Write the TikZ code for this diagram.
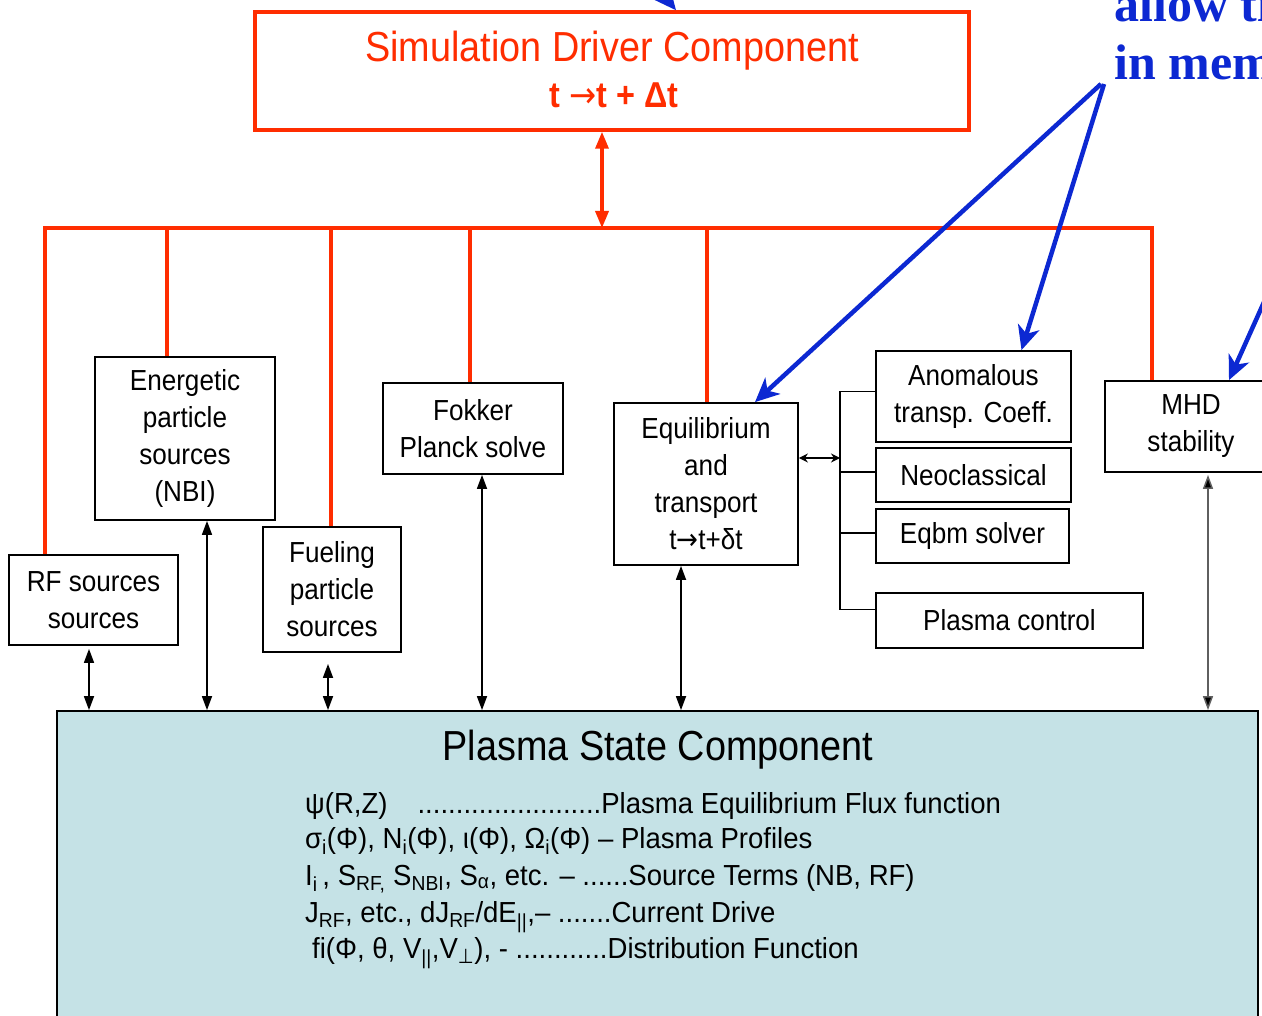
\documentclass[tikz,border=0pt]{standalone}
\usepackage{fontspec}
\setmainfont[FakeStretch=0.9]{Liberation Sans}
\newfontfamily\psfont[FakeStretch=0.95]{Liberation Sans}
\newfontfamily\serifbold{Liberation Serif}
\newfontfamily\dejavusym[FakeStretch=0.9]{DejaVu Sans}
\usetikzlibrary{arrows.meta,calc}
\definecolor{myred}{RGB}{255,45,0}
\definecolor{myblue}{RGB}{12,40,210}
\definecolor{psfill}{RGB}{197,226,230}
\definecolor{mygray}{RGB}{95,95,95}
\newcommand\bxfont{\fontsize{29}{37}\selectfont}
\newcommand\ttlfont{\fontsize{42}{48}\selectfont}
\newcommand\rarr{{\dejavusym\mdseries →}}
\begin{document}
\begin{tikzpicture}[x=1pt,y=-1pt,
  box/.style={draw=black, line width=1.8pt, align=center, inner sep=0pt, font=\bxfont},
  redline/.style={draw=myred, line width=3.5pt},
  redarrow/.style={draw=myred, line width=3.5pt, {Triangle[length=17pt,width=13pt]}-{Triangle[length=17pt,width=13pt]}},
  dbl/.style={draw=black, line width=1.7pt, {Triangle[length=14pt,width=10pt]}-{Triangle[length=14pt,width=10pt]}},
  smalldbl/.style={draw=black, line width=1.7pt, {Stealth[length=9pt,width=9pt]}-{Stealth[length=9pt,width=9pt]}},
  brline/.style={draw=black, line width=1.8pt},
  bluearrow/.style={draw=myblue, line width=4.5pt, -{Stealth[length=24pt,width=22pt,inset=7pt]}},
  bluetext/.style={text=myblue, font=\serifbold\bfseries\fontsize{50}{56}\selectfont, anchor=base west, inner sep=0pt},
  pstext/.style={font=\psfont\fontsize{29}{37}\selectfont, anchor=base west, inner sep=0pt}
]
\useasboundingbox (0,0) rectangle (1262,1016);
\clip (0,0) rectangle (1262,1016);
\fill[white] (0,0) rectangle (1262,1016);

% Simulation driver
\node[draw=myred, line width=3.5pt, minimum width=714pt, minimum height=118pt] (sim) at (612,71) {};
\node[text=myred, font=\ttlfont, anchor=base, inner sep=0pt] (simt) at (612,62) {Simulation Driver Component};
\node[text=myred, font=\bfseries\fontsize{36}{40}\selectfont, anchor=base, inner sep=0pt] (simd) at (614,108) {t \rarr t + Δt};

% component boxes
\node[box, minimum width=169pt, minimum height=90pt] (rf) at (93.5,600) {RF sources\\sources};
\node[box, minimum width=180pt, minimum height=163pt] (enp) at (185,438.5) {Energetic\\particle\\sources\\(NBI)};
\node[box, minimum width=138pt, minimum height=125pt] (fuel) at (332,589.5) {Fueling\\particle\\sources};
\node[box, minimum width=180pt, minimum height=91pt] (fok) at (473,428.5) {Fokker\\Planck solve};
\node[box, minimum width=184pt, minimum height=162pt] (eq) at (706,484) {Equilibrium\\and\\transport\\t\rarr t+δt};
\node[box, minimum width=195pt, minimum height=91pt] (anom) at (973.5,396.5) {Anomalous\\transp. Coeff.};
\node[box, minimum width=195pt, minimum height=54pt] (neo) at (973.5,475) {Neoclassical};
\node[box, minimum width=193pt, minimum height=54pt] (eqbm) at (972.5,536) {Eqbm solver};
\node[box, minimum width=267pt, minimum height=55pt] (pc) at (1009.5,620.5) {Plasma control};
\node[box, minimum width=172pt, minimum height=91pt] (mhd) at (1191,426.5) {MHD\\stability};

% plasma state
\node[draw=black, fill=psfill, line width=1.8pt, minimum width=1201pt, minimum height=389pt, inner sep=0pt] (ps) at (657.5,905.5) {};
\node[font=\ttlfont, anchor=base, inner sep=0pt] (pst) at (658,760) {Plasma State Component};
\node[pstext] (l1) at (305,813) {ψ(R,Z)\hspace{30pt}........................Plasma Equilibrium Flux function};
\node[pstext] (l2) at (305,848) {σ\textsubscript{i}(Φ), N\textsubscript{i}(Φ), ι(Φ), Ω\textsubscript{i}(Φ) – Plasma Profiles};
\node[pstext] (l3) at (305,885) {I\textsubscript{i}\,, S\textsubscript{RF,} S\textsubscript{NBI}, S\textsubscript{α}, etc. – ......Source Terms (NB, RF)};
\node[pstext] (l4) at (305,922) {J\textsubscript{RF}, etc., dJ\textsubscript{RF}/dE\textsubscript{||},– .......Current Drive};
\node[pstext] (l5) at (312,958) {fi(Φ, θ, V\textsubscript{||},V\textsubscript{{\dejavusym ⊥}}), - ............Distribution Function};

% red bus
\coordinate (c1) at (45,228);
\coordinate (c2) at (167,228);
\coordinate (c3) at (331,228);
\coordinate (c4) at (470,228);
\coordinate (c5) at (707,228);
\coordinate (c6) at (1152,228);
\coordinate (cm) at (602,228);
\draw[redline] (c1 |- rf.north) -- (c1) -- (c6) -- (c6 |- mhd.north);
\draw[redline] (c2) -- (c2 |- enp.north);
\draw[redline] (c3) -- (c3 |- fuel.north);
\draw[redline] (c4) -- (c4 |- fok.north);
\draw[redline] (c5) -- (c5 |- eq.north);
\draw[redarrow] (cm |- sim.south) -- (cm);

% black arrows to plasma state
\coordinate (a1) at (89,0);
\coordinate (a2) at (207,0);
\coordinate (a3) at (328,0);
\coordinate (a4) at (482,0);
\coordinate (a5) at (681,0);
\coordinate (a6) at (1208,0);
\draw[dbl] ($(a1 |- rf.south)+(0,3)$) -- (a1 |- ps.north);
\draw[dbl] (a2 |- enp.south) -- (a2 |- ps.north);
\draw[dbl] ($(a3 |- fuel.south)+(0,11)$) -- (a3 |- ps.north);
\draw[dbl] (a4 |- fok.south) -- (a4 |- ps.north);
\draw[dbl] (a5 |- eq.south) -- (a5 |- ps.north);
\draw[dbl, draw=mygray, line width=1.5pt, {Triangle[length=14pt,width=10pt,fill=black]}-{Triangle[length=14pt,width=10pt,fill=black]}] ($(a6 |- mhd.south)+(0,2)$) -- (a6 |- ps.north);

% bracket
\coordinate (brk) at (840,0);
\coordinate (t1) at ($(anom.west)+(0,-5)$);
\coordinate (t2) at ($(neo.west)+(0,-3)$);
\coordinate (t3) at ($(eqbm.west)+(0,-3)$);
\coordinate (t4) at ($(pc.west)+(0,-11)$);
\draw[brline] (t1) -- (t1 -| brk) -- (t4 -| brk) -- (t4);
\draw[brline] (t2) -- (t2 -| brk);
\draw[brline] (t3) -- (t3 -| brk);
\coordinate (ea) at ($(eq.east)+(0,-26)$);
\draw[smalldbl] (ea) -- (ea -| brk);

% blue annotation (cut off by the picture's edge, as in the reference)
\node[bluetext] (bt1) at (1114,22) {allow ti};
\node[bluetext] (bt2) at (1114,80) {in mem};
\coordinate (bs1) at (1101,84);
\coordinate (bs2) at (1104,84);
\coordinate (bs3) at (1282,262);
\coordinate (bs4) at (610,-70);
\draw[bluearrow] (bs1) -- ([xshift=49pt]eq.north);
\draw[bluearrow] (bs2) -- ([xshift=48pt]anom.north);
\draw[bluearrow] (bs3) -- ([xshift=38pt]mhd.north);
\draw[bluearrow] (bs4) -- ([xshift=64pt]sim.north);
\end{tikzpicture}
\end{document}
